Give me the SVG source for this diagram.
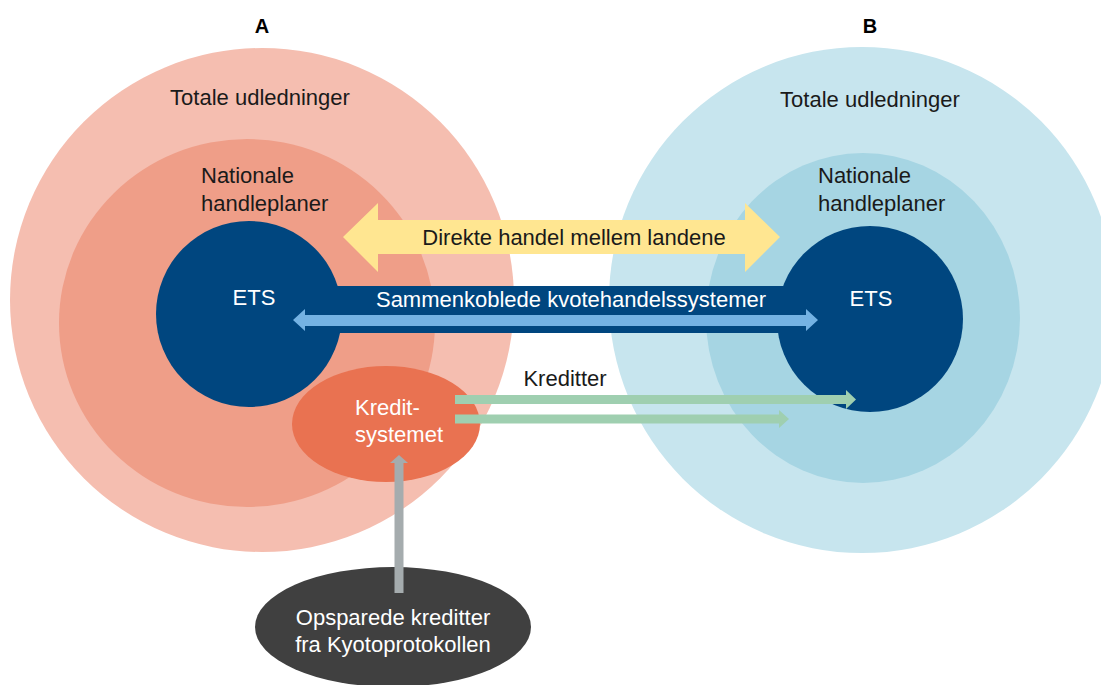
<svg xmlns="http://www.w3.org/2000/svg" width="1101" height="685" viewBox="0 0 1101 685">
<style>
text{font-family:"Liberation Sans",Arial,sans-serif;font-size:22px;fill:#1a1a1a}
.w{fill:#ffffff}
.hd{font-weight:bold;font-size:20px;fill:#000}
.mid{text-anchor:middle}
.navy{fill:#00467F}
</style>
<rect width="1101" height="685" fill="#ffffff"/>
<g id="A-total"><circle cx="262" cy="300" r="252" fill="#F5BEB0"/></g>
<g id="B-total"><circle cx="862" cy="300" r="253" fill="#C7E5EE"/></g>
<g id="A-nat"><ellipse cx="247" cy="323" rx="188" ry="184" fill="#EF9E88"/></g>
<g id="B-nat"><ellipse cx="863" cy="318" rx="157" ry="165" fill="#A6D5E3"/></g>
<g id="A-ets"><circle class="navy" cx="249" cy="314" r="93"/></g>
<g id="B-ets"><circle class="navy" cx="870" cy="319" r="93"/></g>
<g id="kredit"><ellipse cx="386" cy="424" rx="94" ry="58" fill="#E97251"/>
<text class="w" x="355" y="415">Kredit-</text><text class="w" x="355" y="442">systemet</text></g>
<g id="kyoto"><ellipse cx="393" cy="627" rx="138" ry="60" fill="#404040"/>
<text class="w mid" x="393" y="625">Opsparede kreditter</text><text class="w mid" x="393" y="652">fra Kyotoprotokollen</text></g>
<g id="connectors">
<polygon points="343,237 378,203 378,220 745,220 745,203 780,237 745,272 745,254 378,254 378,272" fill="#FFE691"/>
<rect class="navy" x="330" y="286" width="460" height="47"/>
<polygon points="293,320 305,309 305,315 806,315 806,309 818,320 806,331 806,326 305,326 305,331" fill="#74B2E3"/>
<polygon points="455,395 846,395 846,390 856,399.5 846,409 846,404 455,404" fill="#9FCFB0"/>
<polygon points="455,414.5 779,414.5 779,410 789,419 779,428 779,423.5 455,423.5" fill="#9FCFB0"/>
<polygon points="394.5,593 394.5,463 390,463 399,455 408,463 403.5,463 403.5,593" fill="#A5ACAE"/>
<text class="mid" x="574" y="245">Direkte handel mellem landene</text>
<text class="w mid" x="571" y="307">Sammenkoblede kvotehandelssystemer</text>
<text class="mid" x="565" y="386">Kreditter</text>
</g>
<g id="labels">
<text class="hd mid" x="262" y="33">A</text>
<text class="hd mid" x="870" y="33">B</text>
<text class="mid" x="260" y="105">Totale udledninger</text>
<text class="mid" x="870" y="107">Totale udledninger</text>
<text x="201" y="183">Nationale</text><text x="201" y="211">handleplaner</text>
<text x="818" y="183">Nationale</text><text x="818" y="211">handleplaner</text>
<text class="w mid" x="254" y="305">ETS</text>
<text class="w mid" x="871" y="306">ETS</text>
</g>
</svg>
